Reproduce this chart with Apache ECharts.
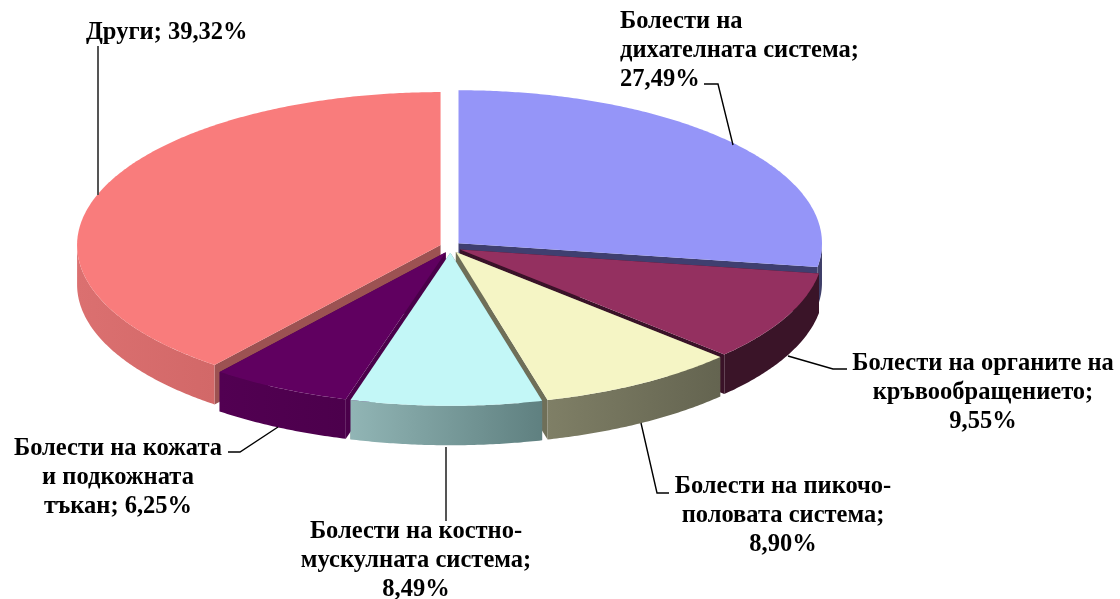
<!DOCTYPE html>
<html><head><meta charset="utf-8">
<style>html,body{margin:0;padding:0;background:#fff}#c{width:1120px;height:599px}</style>
<script src="https://cdn.jsdelivr.net/npm/echarts@6/dist/echarts.min.js"></script>
</head><body><div id="c"></div>
<script>
// Data, clockwise from 12 o'clock
const categories = ['Болести на дихателната система','Болести на органите на кръвообращението','Болести на пикочо-половата система','Болести на костно-мускулната система','Болести на кожата и подкожната тъкан','Други'];
const values = [27.49, 9.55, 8.90, 8.49, 6.25, 39.32];
const labelTexts = [
  'Болести на\nдихателната система;\n27,49%',
  'Болести на органите на\nкръвообращението;\n9,55%',
  'Болести на пикочо-\nполовата система;\n8,90%',
  'Болести на костно-\nмускулната система;\n8,49%',
  'Болести на кожата\nи подкожната\nтъкан; 6,25%',
  'Други; 39,32%'
];
// Styles
const topColors = ['#9595F8','#943060','#F5F5C5','#C3F7F7','#600060','#F97C7C'];
const wallLeft  = ['#44446E','#3A1428','#7F7F66','#91B5B5','#520052','#DB7070'];
const wallRight = ['#3C3C66','#3A1428','#646450','#5F8080','#4C004C','#D26868'];
const faceColors= ['#3F3F70','#3A1228','#6F6F58','#5F8080','#4A004A','#9C5252'];
// Layout of the pie (pseudo-3D projection)
const CX = 450.5, CY = 247, RX = 363.5, RY = 153, DEPTH = 39.5, EXPLODE = 10.5, EXPLODE_Y = 0.55;
// Label layout
const labelPos = [[620,22,'left'],[983,364,'center'],[783,487,'center'],[416,532,'center'],[118,449,'center'],[86,33,'left']];
const leaderLines = [
  [[704,84],[718,84],[733,145]],
  [[788,356],[833,369],[847,369]],
  [[641,423],[657,493],[669,493]],
  [[446,447],[446,521]],
  [[278,427],[240,452],[228,452]],
  [[98,46],[98,195]]
];
const leaderStyle = [['#000',1.4],['#000',1.4],['#000',1.4],['#555',2],['#000',1.4],['#555',2]];

const total = values.reduce((a,b)=>a+b,0);
const rad = d => d*Math.PI/180;

function renderItem(params, api){
  const i = params.dataIndex, v = api.value(0);
  let before = 0;
  for(let k=0;k<i;k++) before += values[k];
  const a0 = before/total*360, a1 = (before+v)/total*360, mid = (a0+a1)/2;
  const ax = CX + EXPLODE*Math.sin(rad(mid));
  const ay = CY - EXPLODE*EXPLODE_Y*Math.cos(rad(mid));
  const pt = (d, dz) => [ax+RX*Math.sin(rad(d)), ay-RY*Math.cos(rad(d))+(dz||0)];
  const order = values.map((x,k)=>{
    let b=0; for(let j=0;j<k;j++) b+=values[j];
    return Math.abs((b+x/2)/total*360-180);
  }).filter(m => m >= Math.abs(mid-180)).length;
  const z = order*10;
  const arc = (s,e)=>{const r=[];const n=Math.max(2,Math.ceil((e-s)/0.5));
    for(let j=0;j<=n;j++) r.push(s+(e-s)*j/n); return r;};
  const children = [];
  // radial cut faces
  [a0,a1].forEach(d=>{
    children.push({type:'polygon',z2:z,silent:true,
      shape:{points:[[ax,ay],pt(d),pt(d,DEPTH),[ax,ay+DEPTH]]},
      style:{fill:faceColors[i]}});
  });
  // outer wall (front half only)
  const ws = Math.max(a0,90), we = Math.min(a1,270);
  if(we>ws){
    const as = arc(ws,we);
    const pts = as.map(d=>pt(d)).concat(as.slice().reverse().map(d=>pt(d,DEPTH)));
    children.push({type:'polygon',z2:z+1,silent:true,shape:{points:pts},
      style:{fill:new echarts.graphic.LinearGradient(0,0,1,0,[
        {offset:0,color:wallLeft[i]},{offset:1,color:wallRight[i]}])}});
  }
  // top face
  const tp = [[ax,ay]].concat(arc(a0,a1).map(d=>pt(d)));
  children.push({type:'polygon',z2:z+2,silent:true,shape:{points:tp},style:{fill:topColors[i]}});
  // leader line
  children.push({type:'polyline',z2:200,silent:true,shape:{points:leaderLines[i]},
    style:{fill:'none',stroke:leaderStyle[i][0],lineWidth:leaderStyle[i][1]}});
  // label: block centred so that the first line sits at the given position
  const lines = labelTexts[i].split('\n').length;
  children.push({type:'text',z2:300,silent:true,x:labelPos[i][0],y:labelPos[i][1]+(lines-1)*14.5,
    style:{text:labelTexts[i],fill:'#000',align:labelPos[i][2],verticalAlign:'middle',
      font:'bold 24.5px "Liberation Serif"',lineHeight:29}});
  return {type:'group',children};
}

const chart = echarts.init(document.getElementById('c'));
chart.setOption({
  animation:false,
  backgroundColor:'#fff',
  tooltip:{show:false},
  series:[{
    type:'custom',
    coordinateSystem:'none',
    clip:false,
    silent:true,
    renderItem,
    encode:{value:0},
    data:categories.map((c,i)=>({name:c,value:[values[i]]}))
  }]
});
</script></body></html>
